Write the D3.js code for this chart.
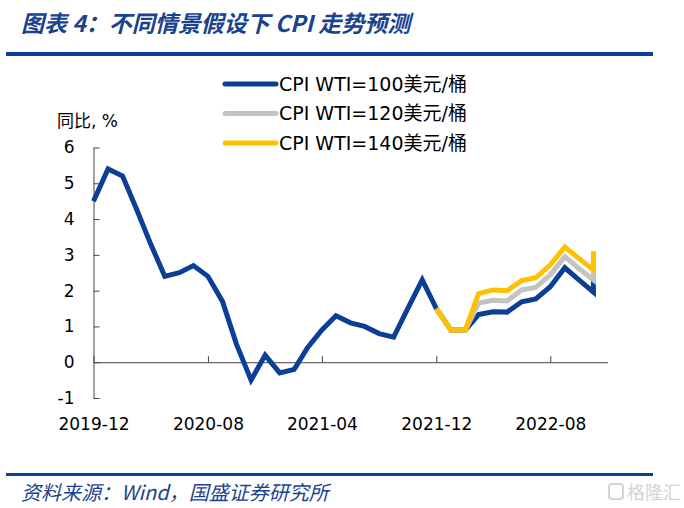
<!DOCTYPE html>
<html>
<head>
<meta charset="utf-8">
<script src="https://cdn.jsdelivr.net/npm/d3@7"></script>
<style>
  body { margin: 0; background: #fff; }
  text { font-family: "DejaVu Sans", "Noto Sans CJK SC", sans-serif; }
</style>
</head>
<body>
<svg></svg>
<script>
// months on the x axis (last month repeated: the forecast ends with a jump)
const months = [
  '2019-12', '2020-01', '2020-02', '2020-03', '2020-04', '2020-05', '2020-06',
  '2020-07', '2020-08', '2020-09', '2020-10', '2020-11', '2020-12', '2021-01',
  '2021-02', '2021-03', '2021-04', '2021-05', '2021-06', '2021-07', '2021-08',
  '2021-09', '2021-10', '2021-11', '2021-12', '2022-01', '2022-02', '2022-03',
  '2022-04', '2022-05', '2022-06', '2022-07', '2022-08', '2022-09', '2022-10',
  '2022-11', '2022-11'
];

// CPI yoy, %
const cpi100 = [4.5, 5.4, 5.2, 4.3, 3.3, 2.4, 2.5, 2.7, 2.4, 1.7, 0.5, -0.5, 0.2, -0.3,
  -0.2, 0.4, 0.9, 1.3, 1.1, 1.0, 0.8, 0.7, 1.5, 2.3, 1.5, 0.9, 0.9, 1.33,
  1.41, 1.4, 1.69, 1.77, 2.11, 2.64, 2.3, 1.96, 2.4];
const cpi120 = [null, null, null, null, null, null, null, null, null, null, null, null,
  null, null, null, null, null, null, null, null, null, null, null, null,
  1.5, 0.9, 0.9, 1.65, 1.73, 1.71, 2.02, 2.09, 2.44, 2.95, 2.62, 2.3, 2.8];
const cpi140 = [null, null, null, null, null, null, null, null, null, null, null, null,
  null, null, null, null, null, null, null, null, null, null, null, null,
  1.5, 0.9, 0.9, 1.92, 2.02, 2.0, 2.28, 2.36, 2.72, 3.22, 2.9, 2.58, 3.1];

const seriesNames = ['CPI WTI=100美元/桶', 'CPI WTI=120美元/桶', 'CPI WTI=140美元/桶'];
const seriesColors = ['#0b3f95', '#c3c3c3', '#ffc000'];
const xTickLabels = ['2019-12', '2020-08', '2021-04', '2021-12', '2022-08'];
const yTicks = [-1, 0, 1, 2, 3, 4, 5, 6];

const svg = d3.select('svg')
  .attr('width', 684)
  .attr('height', 508);

const parseMonth = d3.timeParse('%Y-%m');

// scales
const scaleX = d3.scaleTime()
  .domain([parseMonth('2019-12'), parseMonth('2022-12')])
  .range([93.5, 607.5]);

const scaleY = d3.scaleLinear()
  .domain([-1, 6])
  .range([398, 147.5]);

// title and its rule
svg.append('text')
  .attr('x', 21)
  .attr('y', 32)
  .attr('font-size', 23)
  .attr('font-weight', 'bold')
  .attr('font-style', 'italic')
  .attr('fill', '#1a428f')
  .style('font-family', '"Noto Sans CJK SC", "DejaVu Sans", sans-serif')
  .text('图表 4：不同情景假设下 CPI 走势预测');

svg.append('rect')
  .attr('x', 6).attr('y', 52)
  .attr('width', 647).attr('height', 4)
  .attr('fill', '#0d3f96');

// footer rule and source
svg.append('rect')
  .attr('x', 6).attr('y', 473)
  .attr('width', 647).attr('height', 3)
  .attr('fill', '#0d3f96');

svg.append('text')
  .attr('x', 21)
  .attr('y', 500)
  .attr('font-size', 20)
  .attr('font-style', 'italic')
  .attr('fill', '#1a428f')
  .style('font-family', '"Noto Sans CJK SC", "DejaVu Sans", sans-serif')
  .text('资料来源：Wind，国盛证券研究所');

// watermark
svg.append('rect')
  .attr('x', 609).attr('y', 484)
  .attr('width', 14).attr('height', 15)
  .attr('rx', 3)
  .attr('fill', 'none')
  .attr('stroke', '#d4d4d4')
  .attr('stroke-width', 2);

svg.append('text')
  .attr('x', 681)
  .attr('y', 499)
  .attr('text-anchor', 'end')
  .attr('font-size', 18)
  .attr('fill', '#d4d4d4')
  .style('font-family', '"Noto Sans CJK SC", sans-serif')
  .text('格隆汇');

// y axis
const axisY = d3.axisLeft(scaleY)
  .tickValues(yTicks)
  .tickSizeInner(-6)
  .tickSizeOuter(0)
  .tickPadding(19)
  .tickFormat(d => String(d));

const axisYGroup = svg.append('g')
  .attr('transform', `translate(${scaleX.range()[0]}, 0)`)
  .call(axisY);

axisYGroup.selectAll('text')
  .attr('font-size', 17)
  .attr('fill', '#000')
  .style('font-family', '"DejaVu Sans", sans-serif');
axisYGroup.selectAll('line, path').attr('stroke', '#444');

svg.append('text')
  .attr('x', 57)
  .attr('y', 127)
  .attr('font-size', 17)
  .attr('fill', '#000')
  .text('同比, %');

// x axis line at zero, ticks pointing up
const axisX = d3.axisBottom(scaleX)
  .tickValues(xTickLabels.map(parseMonth))
  .tickSizeInner(-6)
  .tickSizeOuter(0)
  .tickFormat('');

const axisXGroup = svg.append('g')
  .attr('transform', `translate(0, ${scaleY(0)})`)
  .call(axisX);
axisXGroup.selectAll('line, path').attr('stroke', '#444');

// x labels sit under the plot
const axisXLabels = d3.axisBottom(scaleX)
  .tickValues(xTickLabels.map(parseMonth))
  .tickSize(0)
  .tickPadding(20)
  .tickFormat(d3.timeFormat('%Y-%m'));

const axisXLabelGroup = svg.append('g')
  .attr('transform', `translate(0, ${scaleY(-1)})`)
  .call(axisXLabels);
axisXLabelGroup.select('.domain').remove();
axisXLabelGroup.selectAll('text')
  .attr('font-size', 17)
  .attr('fill', '#000')
  .style('font-family', '"DejaVu Sans", sans-serif');

// lines
const line = d3.line()
  .defined(d => d[1] != null)
  .x(d => scaleX(parseMonth(d[0])))
  .y(d => scaleY(d[1]));

[cpi100, cpi120, cpi140].forEach((values, i) => {
  svg.append('path')
    .datum(months.map((m, j) => [m, values[j]]))
    .attr('fill', 'none')
    .attr('stroke', seriesColors[i])
    .attr('stroke-width', 5)
    .attr('stroke-linejoin', 'miter')
    .attr('d', line);
});

// legend
const legend = svg.selectAll('g.legend')
  .data(seriesNames)
  .enter()
  .append('g')
  .attr('class', 'legend')
  .attr('transform', (d, i) => `translate(225, ${84 + i * 29.5})`);

legend.append('line')
  .attr('x1', 0).attr('x2', 51)
  .attr('stroke', (d, i) => seriesColors[i])
  .attr('stroke-width', 5)
  .attr('stroke-linecap', 'round');

legend.append('text')
  .attr('x', 54)
  .attr('y', 0)
  .attr('dy', '0.36em')
  .attr('font-size', 19)
  .attr('fill', '#000')
  .text(d => d);
</script>
</body>
</html>
